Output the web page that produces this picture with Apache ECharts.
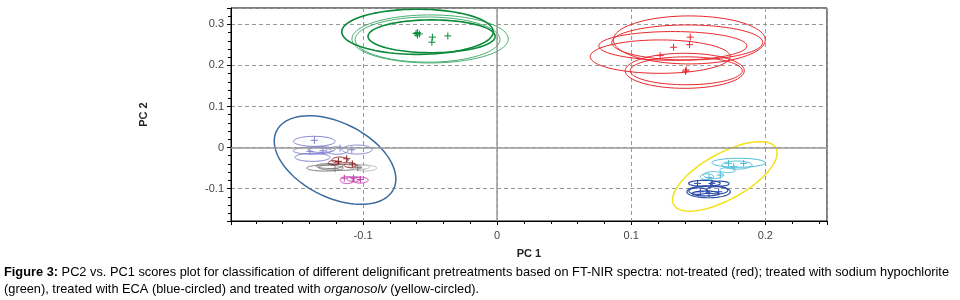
<!DOCTYPE html>
<html><head><meta charset="utf-8">
<script src="https://cdn.jsdelivr.net/npm/echarts@6/dist/echarts.min.js"></script>
<style>html,body{margin:0;padding:0;background:#fff}#c{width:960px;height:300px}</style>
</head><body><div id="c"></div>
<script>
// ---- tick labels ----
const xTickLabels = ['-0.1', '0', '0.1', '0.2'];
const yTickLabels = ['-0.1', '0', '0.1', '0.2', '0.3'];

// ---- confidence ellipses: [cx, cy, rx, ry] (data units) ----
const greenEllipsesDark = [[-0.0594, 0.282, 0.0565, 0.055], [-0.0489, 0.271, 0.0474, 0.040]];
const greenEllipsesLight = [[-0.050, 0.2646, 0.0583, 0.0585], [-0.0519, 0.263, 0.054, 0.055]];
const redEllipses = [[0.1433, 0.2622, 0.0567, 0.0585], [0.1418, 0.256, 0.0563, 0.0427], [0.131, 0.2476, 0.0552, 0.035],
  [0.1216, 0.2215, 0.0522, 0.0407], [0.1399, 0.187, 0.0444, 0.0427], [0.141, 0.187, 0.0418, 0.034]];
const lavenderEllipses = [[-0.1364, 0.0151, 0.0155, 0.0122], [-0.1377, -0.0078, 0.0143, 0.0085], [-0.1377, -0.0239, 0.0131, 0.0098],
  [-0.1194, -0.0073, 0.0082, 0.009], [-0.1045, -0.0049, 0.0112, 0.011], [-0.131, -0.005, 0.010, 0.007]];
const grayEllipses = [[-0.1284, -0.050, 0.0137, 0.0073], [-0.1172, -0.0483, 0.0162, 0.0073], [-0.125, -0.045, 0.010, 0.006]];
const lightGrayEllipses = [[-0.0985, -0.050, 0.0087, 0.007], [-0.103, -0.047, 0.008, 0.006]];
const maroonEllipses = [[-0.1172, -0.0305, 0.006, 0.0073], [-0.1097, -0.0427, 0.0045, 0.006], [-0.122, -0.037, 0.004, 0.005]];
const magentaEllipses = [[-0.1119, -0.0793, 0.0052, 0.0085], [-0.1022, -0.0793, 0.006, 0.0073], [-0.107, -0.077, 0.005, 0.006]];
const cyanEllipses = [[0.1801, -0.0371, 0.0199, 0.011], [0.1789, -0.0427, 0.0112, 0.0098], [0.1614, -0.0671, 0.0075, 0.0085],
  [0.1565, -0.0712, 0.005, 0.0073], [0.172, -0.055, 0.006, 0.006]];
const navyEllipses = [[0.1546, -0.0873, 0.0118, 0.0073], [0.1577, -0.1078, 0.0162, 0.0146], [0.150, -0.106, 0.007, 0.008],
  [0.164, -0.104, 0.008, 0.009], [0.1555, -0.112, 0.010, 0.006], [0.166, -0.088, 0.007, 0.006]];

// ---- group envelopes (rotated): [cx, cy, ux, uy, vx, vy] conjugate semi-axes ----
const ecaEnvelope = [[-0.1209, -0.0305, 0.0436, -0.0712, -0.01246, -0.0812]];
const organosolvEnvelope = [[0.1698, -0.0703, 0.0381, 0.0690, 0.00832, -0.0491]];

// ---- group centroid scores [PC1, PC2] ----
const greenPoints = [[-0.0605, 0.278], [-0.0595, 0.274], [-0.058, 0.277], [-0.0595, 0.280], [-0.0483, 0.269], [-0.0487, 0.2566], [-0.0368, 0.272]];
const redPoints = [[0.144, 0.269], [0.1316, 0.2444], [0.1435, 0.2507], [0.1216, 0.224], [0.141, 0.189], [0.1405, 0.186]];
const lavenderPoints = [[-0.1363, 0.0176], [-0.1396, -0.0093], [-0.1084, -0.0054], [-0.1172, -0.0012], [-0.130, -0.008]];
const grayPoints = [[-0.1209, -0.0517], [-0.104, -0.049]];
const maroonPoints = [[-0.1184, -0.0337], [-0.1122, -0.0273], [-0.108, -0.040]];
const magentaPoints = [[-0.114, -0.0744], [-0.1072, -0.0744], [-0.102, -0.078]];
const cyanPoints = [[0.1726, -0.0386], [0.1838, -0.0386], [0.1664, -0.0671], [0.1764, -0.0468], [0.158, -0.073]];
const navyPoints = [[0.1494, -0.0873], [0.1602, -0.0873], [0.1652, -0.1078], [0.1515, -0.1078], [0.158, -0.112]];

const captionLine1 = '{b|Figure 3:} PC2 vs. PC1 scores plot for classification of different delignificant pretreatments based on FT-NIR spectra: not-treated (red); treated with sodium hypochlorite';
const captionLine2 = '(green), treated with ECA (blue-circled) and treated with {i|organosolv} (yellow-circled).';

const FONT = '"Liberation Sans", Arial, sans-serif';
const CAP = 12.8;

function toConj(list) { return list.map(e => [e[0], e[1], e[2], 0, 0, e[3]]); }

function ellipseSeries(data, color, width) {
  return {
    type: 'custom', clip: true, silent: true, z: 3,
    encode: { x: 0, y: 1 },
    data: data,
    renderItem: function (params, api) {
      const cx = api.value(0), cy = api.value(1), ux = api.value(2), uy = api.value(3), vx = api.value(4), vy = api.value(5);
      const pts = [];
      const N = 90;
      for (let i = 0; i <= N; i++) {
        const t = 2 * Math.PI * i / N;
        pts.push(api.coord([cx + ux * Math.cos(t) + vx * Math.sin(t), cy + uy * Math.cos(t) + vy * Math.sin(t)]));
      }
      return { type: 'polyline', shape: { points: pts }, style: { stroke: color, fill: null, lineWidth: width } };
    }
  };
}

function crossSeries(data, color) {
  return {
    type: 'scatter', silent: true, z: 4,
    symbol: 'path://M0,5L10,5M5,0L5,10', symbolSize: 7,
    itemStyle: { color: 'none', borderColor: color, borderWidth: 1, opacity: 1 },
    data: data
  };
}

const chart = echarts.init(document.getElementById('c'), null, { renderer: 'canvas' });
const axisLabelBase = { color: '#444', fontFamily: FONT, fontSize: 11 };

chart.setOption({
  animation: false,
  backgroundColor: '#fff',
  grid: { left: 231, right: 133, top: 8, bottom: 79, show: true, borderColor: '#000', borderWidth: 1, backgroundColor: 'transparent' },
  xAxis: {
    type: 'value', min: -0.1985, max: 0.246,
    name: 'PC 1', nameLocation: 'middle', nameGap: 27,
    nameTextStyle: { fontFamily: FONT, fontWeight: 'bold', fontSize: 11, color: '#222' },
    axisLine: { show: true, onZero: false, lineStyle: { color: '#000', width: 1 } },
    axisTick: { show: true, length: 4, lineStyle: { color: '#000' } },
    minorTick: { show: true, splitNumber: 5, length: 3, lineStyle: { color: '#000' } },
    axisLabel: Object.assign({ margin: 9, showMinLabel: false, showMaxLabel: false,
      formatter: v => { const s = String(+v.toFixed(4)); return xTickLabels.indexOf(s) >= 0 ? s : ''; } }, axisLabelBase),
    splitLine: { show: true, lineStyle: { color: '#999', type: [4, 3], width: 1 } }
  },
  yAxis: {
    type: 'value', min: -0.179, max: 0.34,
    name: 'PC 2', nameLocation: 'middle', nameGap: 82, nameRotate: 90,
    nameTextStyle: { fontFamily: FONT, fontWeight: 'bold', fontSize: 11, color: '#222' },
    axisLine: { show: true, onZero: false, lineStyle: { color: '#000', width: 1 } },
    axisTick: { show: true, length: 4, lineStyle: { color: '#000' } },
    minorTick: { show: true, splitNumber: 5, length: 3, lineStyle: { color: '#000' } },
    axisLabel: Object.assign({ margin: 7, showMinLabel: false, showMaxLabel: false,
      formatter: v => { const s = String(+v.toFixed(4)); return yTickLabels.indexOf(s) >= 0 ? s : ''; } }, axisLabelBase),
    splitLine: { show: true, lineStyle: { color: '#999', type: [4, 3], width: 1 } }
  },
  graphic: [
    { type: 'text', x: 4, y: 266, silent: true,
      style: { text: captionLine1, fill: '#000', font: CAP + 'px ' + FONT, rich: { b: { fontWeight: 'bold', fontSize: CAP, fontFamily: FONT } } } },
    { type: 'text', x: 4, y: 283, silent: true,
      style: { text: captionLine2, fill: '#000', font: CAP + 'px ' + FONT, rich: { i: { fontStyle: 'italic', fontSize: CAP, fontFamily: FONT } } } }
  ],
  series: [
    { type: 'scatter', data: [], silent: true, z: 1,
      markLine: { silent: true, symbol: 'none', label: { show: false }, animation: false,
        lineStyle: { color: '#9a9a9a', type: 'solid', width: 1.5 },
        data: [{ xAxis: 0 }, { yAxis: 0 }] } },
    ellipseSeries(toConj(greenEllipsesLight), '#4aae72', 1),
    ellipseSeries(toConj(greenEllipsesDark), '#0b8a3a', 1.6),
    ellipseSeries(toConj(redEllipses), '#e8262b', 1),
    ellipseSeries(toConj(lavenderEllipses), '#7f7fd0', 1),
    ellipseSeries(toConj(grayEllipses), '#7a7a7a', 1),
    ellipseSeries(toConj(lightGrayEllipses), '#b8b8b8', 1),
    ellipseSeries(toConj(maroonEllipses), '#8b1f1f', 1),
    ellipseSeries(toConj(magentaEllipses), '#c63cb0', 1),
    ellipseSeries(toConj(cyanEllipses), '#45bcd8', 1),
    ellipseSeries(toConj(navyEllipses), '#2b4ba8', 1.2),
    ellipseSeries(ecaEnvelope, '#3b6c9e', 1.5),
    ellipseSeries(organosolvEnvelope, '#f2e21a', 1.5),
    crossSeries(greenPoints, '#0b8a3a'),
    crossSeries(redPoints, '#e8262b'),
    crossSeries(lavenderPoints, '#7f7fd0'),
    crossSeries(grayPoints, '#7a7a7a'),
    crossSeries(maroonPoints, '#8b1f1f'),
    crossSeries(magentaPoints, '#c63cb0'),
    crossSeries(cyanPoints, '#45bcd8'),
    crossSeries(navyPoints, '#2b4ba8')
  ]
});
</script>
</body></html>
